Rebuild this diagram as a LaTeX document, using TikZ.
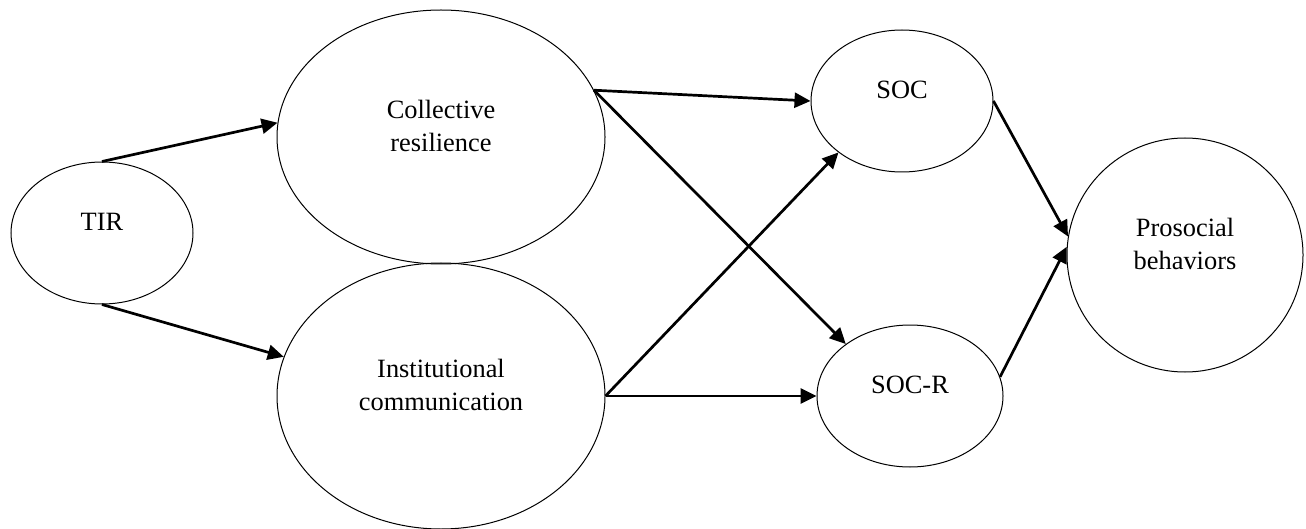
\documentclass[tikz,border=0pt]{standalone}
\usepackage{fontspec}
\setmainfont{Liberation Serif}
\usetikzlibrary{shapes.geometric,arrows.meta}

\begin{document}
\begin{tikzpicture}[x=0.5pt,y=-0.5pt,
  var/.style={draw,ellipse,line width=0.5pt,inner sep=0pt},
  txt/.style={font=\fontsize{13.2}{16.5}\selectfont,align=center,yshift=5.5pt},
  link/.style={line width=1.35pt,-{Triangle[length=8pt,width=7.5pt]}}]
\useasboundingbox (0,0) rectangle (1306,529);
\node[var,minimum width=91pt,minimum height=71pt,label={[txt]center:TIR}] (tir) at (102,233) {};
\node[var,minimum width=164pt,minimum height=127pt,label={[txt]center:Collective\\resilience}] (resil) at (441,137) {};
\node[var,minimum width=164pt,minimum height=133pt,label={[txt]center:Institutional\\communication}] (instcomm) at (441,396) {};
\node[var,minimum width=91pt,minimum height=71pt,label={[txt]center:SOC}] (soc) at (902,101) {};
\node[var,minimum width=93pt,minimum height=71pt,label={[txt]center:SOC-R}] (socr) at (910,396) {};
\node[var,minimum width=118pt,minimum height=117pt,label={[txt]center:Prosocial\\behaviors}] (prosoc) at (1185,255) {};
\draw[link] (tir.north)--(resil.175);
\draw[link] (tir.south)--(instcomm.166);
\draw[link] (resil.17)--(soc.west);
\draw[link] (resil.17)--(socr.141);
\draw[link] (instcomm.east)--(soc.219);
\draw[link] (instcomm.east)--(socr.west);
\draw[link] (soc.east)--(prosoc.171);
\draw[link] (socr.12)--(prosoc.176);
\end{tikzpicture}
\end{document}
